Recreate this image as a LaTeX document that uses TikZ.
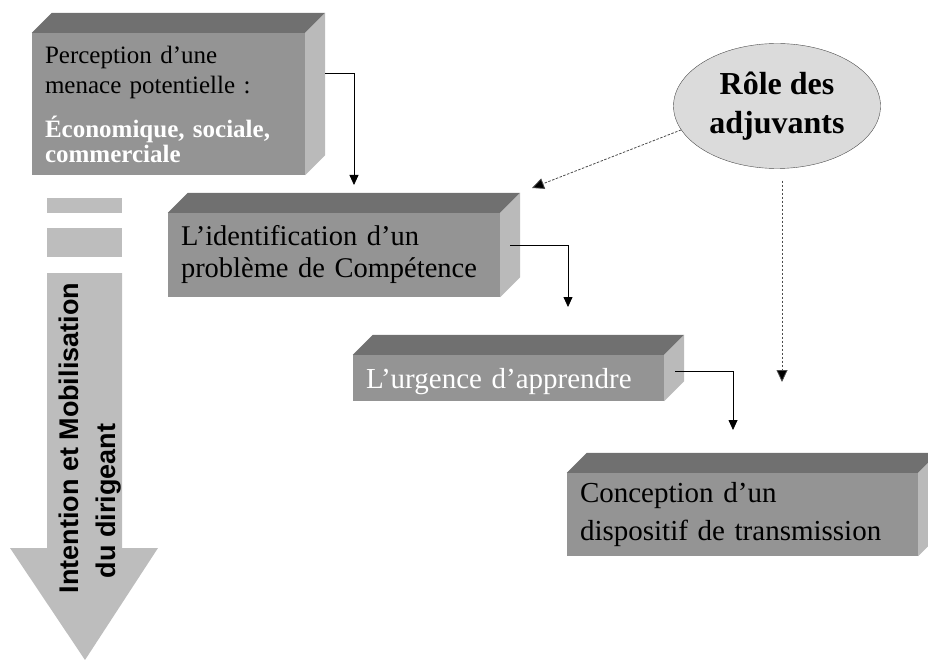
\documentclass[tikz,border=0pt]{standalone}
\usepackage{fontspec}
\setmainfont{Liberation Serif}
\setsansfont{Liberation Sans}
\usetikzlibrary{arrows.meta,shapes.geometric}
\definecolor{frontgray}{gray}{0.58}
\definecolor{topgray}{gray}{0.44}
\definecolor{sidegray}{gray}{0.73}
\definecolor{ellipsegray}{gray}{0.86}
\definecolor{arrowgray}{gray}{0.74}
\tikzset{
  boxfront/.style={rectangle, fill=frontgray, inner xsep=13pt, inner ysep=0pt, align=left},
  link/.style={line width=0.8pt, -{Triangle[length=10pt,width=9pt]}},
  dotlink/.style={line width=0.8pt, draw=black!70, dash pattern=on 2.5pt off 1.5pt,
    -{Triangle[length=12pt,width=11pt,fill=black]}},
  bigtext/.style={rotate=90, anchor=base west, font=\fontsize{27}{27}\selectfont\sffamily\bfseries}
}
\begin{document}
\begin{tikzpicture}[x=1pt,y=-1pt]
\useasboundingbox (0,0) rectangle (928,660);
% Draw the big arrow
        \fill[arrowgray] (47,198) rectangle (122,213);
        \fill[arrowgray] (47,228) rectangle (122,257);
        \fill[arrowgray] (47,273) -- (122,273) -- (122,548) -- (158,548) -- (85,660)
          -- (10,548) -- (47,548) -- cycle;
        \node[bigtext] (intent) at (78,597) {Intention et Mobilisation};
        \node[bigtext] (dirig) at (115,582) {du dirigeant};
% Draw the boxes
        \node[boxfront, text width=247pt, minimum height=142pt, font=\fontsize{25}{30}\selectfont]
          (perc) at (168.5,104)
          {Perception d’une\\ menace potentielle :\\[14pt]
           \color{white}\bfseries Économique, sociale,\\[-5pt] commerciale};
        \node[boxfront, text width=306pt, minimum height=84pt, font=\fontsize{28.5}{32}\selectfont]
          (ident) at (334,255) {L’identification d’un\\ problème de Compétence};
        \node[boxfront, text width=285pt, minimum height=46pt, text depth=0pt, text=white,
          font=\fontsize{29}{34}\selectfont]
          (urg) at (508.5,378) {L’urgence d’apprendre};
        \node[boxfront, text width=325pt, minimum height=83pt, font=\fontsize{29}{38}\selectfont]
          (conc) at (742.5,514.5) {Conception d’un\\ dispositif de transmission};
        \foreach \b in {perc,ident,urg,conc} {
          \fill[topgray] (\b.north west) -- ++(20,-20) -- ([shift={(20,-20)}]\b.north east)
            -- (\b.north east) -- cycle;
          \fill[sidegray] (\b.north east) -- ++(20,-20) -- ([shift={(20,-20)}]\b.south east)
            -- (\b.south east) -- cycle;
        }
        \node[ellipse, draw=black!70, fill=ellipsegray, minimum width=207pt, minimum height=125pt,
          inner sep=0pt, align=center, font=\fontsize{32}{39}\selectfont\bfseries]
          (role) at (777,106) {Rôle des\\ adjuvants};
% Draw the links
        \coordinate (t1) at (354,185);
        \coordinate (t2) at (568,307);
        \coordinate (t3) at (733,430);
        \coordinate (t4) at (532,188);
        \coordinate (t5) at (782,382);
        \draw[link] ([xshift=20pt,yshift=-41pt]perc.north east) -| (t1);
        \draw[link] ([xshift=10pt,yshift=-33pt]ident.north east) -| (t2);
        \draw[link] ([xshift=11pt,yshift=-17pt]urg.north east) -| (t3);
        \draw[dotlink] (role.194) -- (t4);
        \draw[dotlink] ([xshift=5pt,yshift=-12pt]role.south) -- (t5);
      \end{tikzpicture}
\end{document}
